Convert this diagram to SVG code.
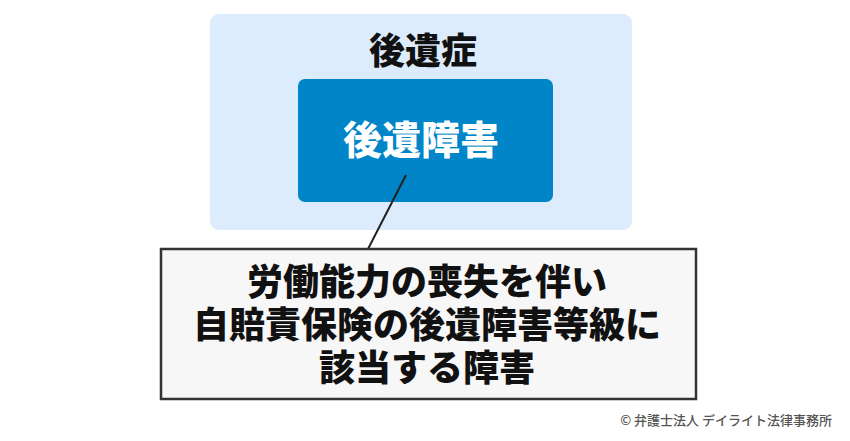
<svg xmlns="http://www.w3.org/2000/svg" width="850" height="441" viewBox="0 0 850 441">
<style>
text{font-family:"Noto Sans CJK JP","Noto Sans",sans-serif;font-weight:900;text-anchor:middle}
.t{font-size:36px;fill:#111}
.w{font-size:39px;fill:#fff}
.c{font-size:13px;fill:#555;font-weight:500;text-anchor:end}
</style>
<rect width="850" height="441" fill="#fff"/>
<g id="outer">
<rect x="210" y="14" width="422" height="216" rx="9" fill="#dcecfc"/>
<text class="t" x="423" y="64">後遺症</text>
</g>
<g id="inner">
<rect x="298" y="79" width="255" height="123" rx="7" fill="#0085c8"/>
<text class="w" x="421" y="154">後遺障害</text>
</g>
<g id="connectors">
<line x1="406" y1="175" x2="368" y2="249" stroke="#222" stroke-width="2"/>
</g>
<g id="note">
<rect x="161" y="249" width="535" height="150" fill="#f7f7f7" stroke="#333" stroke-width="2.5"/>
<text class="t" x="427" y="295">労働能力の喪失を伴い</text>
<text class="t" x="427" y="338">自賠責保険の後遺障害等級に</text>
<text class="t" x="427" y="381">該当する障害</text>
</g>
<text class="c" x="832" y="425">© 弁護士法人 デイライト法律事務所</text>
</svg>
